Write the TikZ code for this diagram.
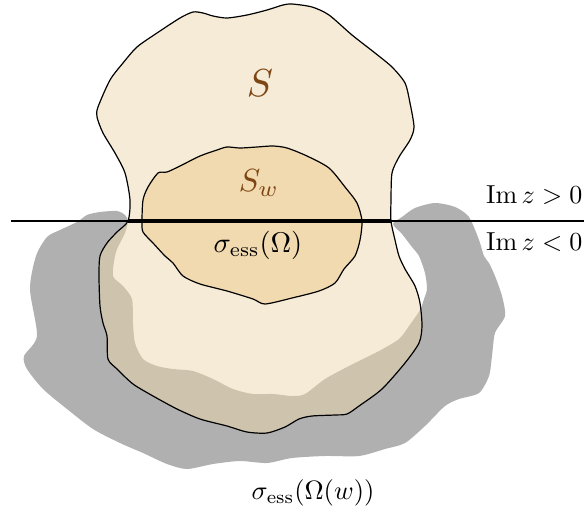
\documentclass[tikz,border=0pt]{standalone}
\usepackage{amsmath}
\definecolor{sfill}{RGB}{236,216,174}
\definecolor{swfill}{RGB}{242,218,176}
\definecolor{essgray}{RGB}{176,176,176}
\definecolor{lbrown}{RGB}{125,70,20}
\begin{document}
\begin{tikzpicture}[x=1pt, y=-1pt,
  lbl/.style={inner sep=0pt},
  rim/.style={draw=black, line width=1.2pt, line join=round}]
  \useasboundingbox (0,0) rectangle (584,512);
  \fill[essgray] plot[smooth cycle, tension=0.45] coordinates {
    (128,221) (125,215) (117,211) (100,212) (87,215) (77,222) (60,230) (47,237)
    (36,256) (30,289) (37,336) (24,356) (27,369) (43,389) (67,409) (93,429)
    (120,443) (143,453) (167,464) (187,469) (213,464) (240,461) (267,463) (292,458)
    (325,456) (359,456) (385,449) (405,443) (425,426) (445,406) (459,399) (479,393)
    (489,376) (492,356) (495,333) (505,316) (502,296) (495,276) (489,263) (484,256)
    (479,240) (469,217) (455,207) (435,203) (415,208) (402,217) (393,224)
    (402,234) (412,247) (419,256) (425,273) (427,289) (424,299) (420,310)
    (409,326) (399,339) (379,351) (349,366) (325,379) (305,394) (292,396)
    (273,394) (253,394) (233,389) (213,379) (193,371) (173,369) (157,366)
    (143,359) (135,343) (133,323) (132,299) (123,286) (113,276) (115,256)
    (118,247) (125,233)};
  \path[rim, fill=sfill, fill opacity=0.5] plot[smooth cycle, tension=0.45] coordinates {
    (128,221) (130,200) (125,173) (115,153) (103,133) (97,117) (98,107) (110,80)
    (123,63) (137,47) (157,33) (180,18) (193,12) (203,13) (213,16) (227,18)
    (247,15) (267,10) (283,5) (292,4) (312,7) (329,15) (352,35) (375,53)
    (392,67) (405,83) (410,103) (414,127) (410,140) (399,157) (392,173) (391,200)
    (391,221) (395,240) (399,256) (405,269) (415,286) (420,303) (422,326) (419,343)
    (405,363) (382,389) (359,406) (347,414) (335,415) (312,416) (299,419) (285,427)
    (267,433) (247,432) (227,426) (200,419) (177,409) (153,396) (133,384) (117,369)
    (108,359) (107,336) (103,323) (100,306) (99,276) (100,256) (107,243) (117,232)};
  \path[rim, fill=swfill] plot[smooth cycle, tension=0.45] coordinates {
    (142,221) (143,200) (148,187) (158,173) (167,172) (180,166) (200,156) (217,150)
    (227,147) (240,148) (257,147) (273,146) (287,148) (307,156) (329,168) (345,187)
    (357,203) (362,221) (360,240) (355,256) (344,269) (335,283) (319,291) (292,298)
    (265,304) (253,299) (227,291) (200,284) (183,276) (173,263) (165,256) (153,243)
    (143,232)};
  \coordinate (axl) at (11,221);
  \coordinate (axr) at (584,221);
  \coordinate (essl) at (128,221);
  \coordinate (essr) at (391,221);
  \draw[line width=1.2pt] (axl) -- (axr);
  \draw[line width=4.6pt] (essl) -- (essr);
  \node[lbl, text=lbrown, scale=3.9] (s) at (260,83) {$S$};
  \node[lbl, text=lbrown, scale=3.2] (sw) at (259,183) {$S_w$};
  \node[lbl, scale=2.85] (ess) at (258,245) {$\sigma_{\mathrm{ess}}(\Omega)$};
  \node[lbl, scale=2.65] (essw) at (313,493) {$\sigma_{\mathrm{ess}}(\Omega(w))$};
  \node[lbl, scale=2.6, anchor=east] (up) at (583,195) {$\operatorname{Im} z > 0$};
  \node[lbl, scale=2.6, anchor=east] (low) at (583,242) {$\operatorname{Im} z < 0$};
\end{tikzpicture}
\end{document}
